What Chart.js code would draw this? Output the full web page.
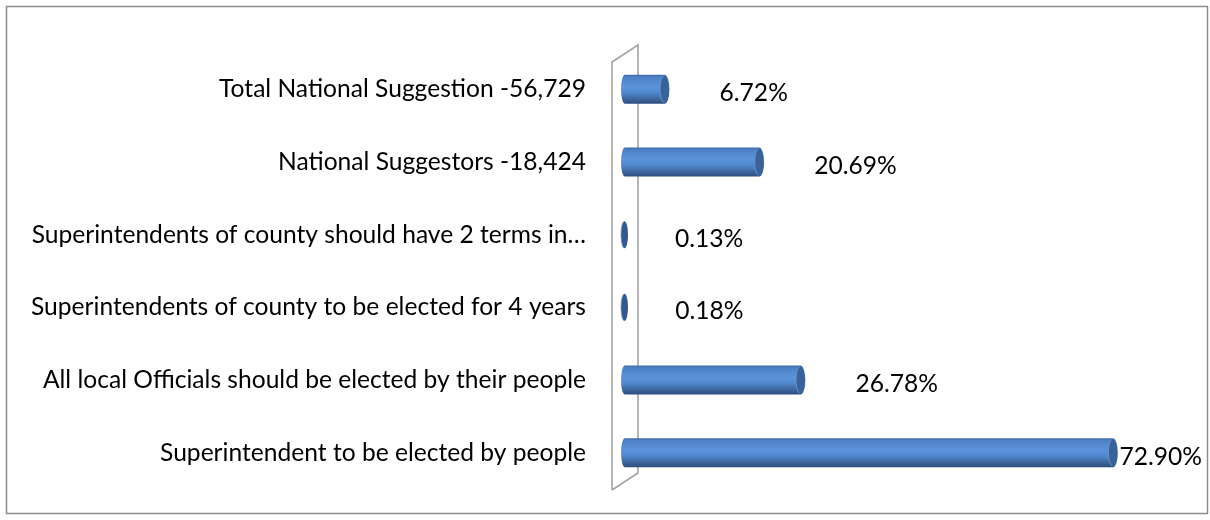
<!DOCTYPE html>
<html>
<head>
<meta charset="utf-8">
<script src="https://cdn.jsdelivr.net/npm/chart.js@4/dist/chart.umd.min.js"></script>
<style>
  html, body { margin: 0; padding: 0; background: #ffffff; }
  #wrap { width: 1210px; height: 520px; }
</style>
</head>
<body>
<div id="wrap"><canvas id="c" width="1210" height="520"></canvas></div>
<script>
const categories = [
  "Total National Suggestion -56,729",
  "National Suggestors -18,424",
  "Superintendents of county should have 2 terms in\u2026",
  "Superintendents of county to be elected for 4 years",
  "All local Officials should be elected by their people",
  "Superintendent to be elected by people"
];
const values = [6.72, 20.69, 0.13, 0.18, 26.78, 72.90];
const axisMin = 0;
const axisMax = 80;

const FAMILY = "Lato, 'Open Sans', sans-serif";
// fit the font so the longest category label has the reference width
const mctx = document.createElement('canvas').getContext('2d');
mctx.font = "100px " + FAMILY;
const longest = categories.reduce((a, b) => mctx.measureText(a).width > mctx.measureText(b).width ? a : b);
const FONT_SIZE = Math.round(100 * 556 / mctx.measureText(longest).width * 10) / 10;

const PLOT_LEFT = 624;

const framePlugin = {
  id: 'frame',
  beforeDraw(chart) {
    const ctx = chart.ctx;
    ctx.save();
    ctx.fillStyle = '#ffffff';
    ctx.fillRect(0, 0, chart.width, chart.height);
    ctx.strokeStyle = '#8c8c8c';
    ctx.lineWidth = 1.5;
    ctx.strokeRect(6.5, 6.5, chart.width - 9, chart.height - 13);
    ctx.restore();
  },
  beforeDatasetsDraw(chart) {
    // 3D back wall of the category axis
    const ctx = chart.ctx, ca = chart.chartArea;
    const xl = ca.left - 12, xr = ca.left + 14;
    ctx.save();
    ctx.strokeStyle = '#a3a3a3';
    ctx.lineWidth = 1.6;
    ctx.beginPath();
    ctx.moveTo(xl, ca.bottom + 1);
    ctx.lineTo(xl, ca.top + 9);
    ctx.lineTo(xr, ca.top - 8);
    ctx.lineTo(xr, ca.bottom - 16);
    ctx.lineTo(xl, ca.bottom + 1);
    ctx.stroke();
    ctx.restore();
  }
};

function drawCylinder(ctx, x0, x1, cy, h) {
  const ry = h / 2, top = cy - ry;
  const left = x0 - 3;
  if (x1 - left < 10) {
    ctx.beginPath();
    ctx.ellipse(x0 + 0.5, cy, 3.5, ry - 1, 0, 0, Math.PI * 2);
    ctx.fillStyle = '#35598c';
    ctx.fill();
    ctx.beginPath();
    ctx.ellipse(x0 + 0.5, cy, 3.5, ry - 1, 0, Math.PI * 0.6, Math.PI * 1.4);
    ctx.strokeStyle = 'rgba(110,150,205,0.8)';
    ctx.lineWidth = 1;
    ctx.stroke();
    return;
  }
  const rx = 5, lrx = 4;
  const g = ctx.createLinearGradient(0, top, 0, top + h);
  g.addColorStop(0, '#3e6aa8');
  g.addColorStop(0.08, '#4d80c5');
  g.addColorStop(0.42, '#5b94db');
  g.addColorStop(0.62, '#4f87cc');
  g.addColorStop(0.82, '#3f68a0');
  g.addColorStop(1, '#2c4d7e');
  ctx.beginPath();
  ctx.moveTo(left + lrx, top);
  ctx.lineTo(x1 - rx, top);
  ctx.ellipse(x1 - rx, cy, rx, ry, 0, -Math.PI / 2, Math.PI / 2);
  ctx.lineTo(left + lrx, top + h);
  ctx.ellipse(left + lrx, cy, lrx, ry, 0, Math.PI / 2, Math.PI * 1.5);
  ctx.closePath();
  ctx.fillStyle = g;
  ctx.fill();
  // end cap
  ctx.beginPath();
  ctx.ellipse(x1 - rx, cy, rx - 0.5, ry - 1, 0, 0, Math.PI * 2);
  ctx.fillStyle = '#3a6298';
  ctx.fill();
  ctx.beginPath();
  ctx.ellipse(x1 - rx, cy, rx - 0.5, ry - 1, 0, Math.PI * 0.55, Math.PI * 1.45);
  ctx.strokeStyle = 'rgba(105,150,210,0.9)';
  ctx.lineWidth = 1;
  ctx.stroke();
}

const cylinderPlugin = {
  id: 'cylinders',
  afterDatasetsDraw(chart) {
    const ctx = chart.ctx;
    const meta = chart.getDatasetMeta(0);
    ctx.save();
    meta.data.forEach((el) => {
      drawCylinder(ctx, el.base, el.x, el.y, el.height);
    });
    // value labels
    ctx.font = FONT_SIZE + 'px ' + FAMILY;
    ctx.fillStyle = '#000000';
    ctx.textAlign = 'left';
    ctx.textBaseline = 'middle';
    meta.data.forEach((el, i) => {
      const txt = values[i].toFixed(2) + '%';
      const w = ctx.measureText(txt).width;
      const x = Math.min(el.x + 50, chart.width - 8 - w);
      ctx.fillText(txt, x, el.y + 4);
    });
    ctx.restore();
  }
};

new Chart(document.getElementById('c'), {
  type: 'bar',
  data: {
    labels: categories,
    datasets: [{
      data: values,
      backgroundColor: 'rgba(0,0,0,0)',
      borderWidth: 0,
      barPercentage: 0.4,
      categoryPercentage: 1.0
    }]
  },
  options: {
    indexAxis: 'y',
    responsive: false,
    animation: false,
    devicePixelRatio: 1,
    layout: { padding: { left: 0, right: 44, top: 53, bottom: 31 } },
    plugins: { legend: { display: false }, tooltip: { enabled: false } },
    scales: {
      x: {
        display: false,
        min: axisMin,
        max: axisMax
      },
      y: {
        grid: { display: false, drawTicks: true, tickLength: 38 },
        border: { display: false },
        ticks: {
          color: '#000000',
          padding: 0,
          font: { family: FAMILY, size: FONT_SIZE }
        },
        afterFit(scale) { scale.width = PLOT_LEFT; }
      }
    }
  },
  plugins: [framePlugin, cylinderPlugin]
});
</script>
</body>
</html>
